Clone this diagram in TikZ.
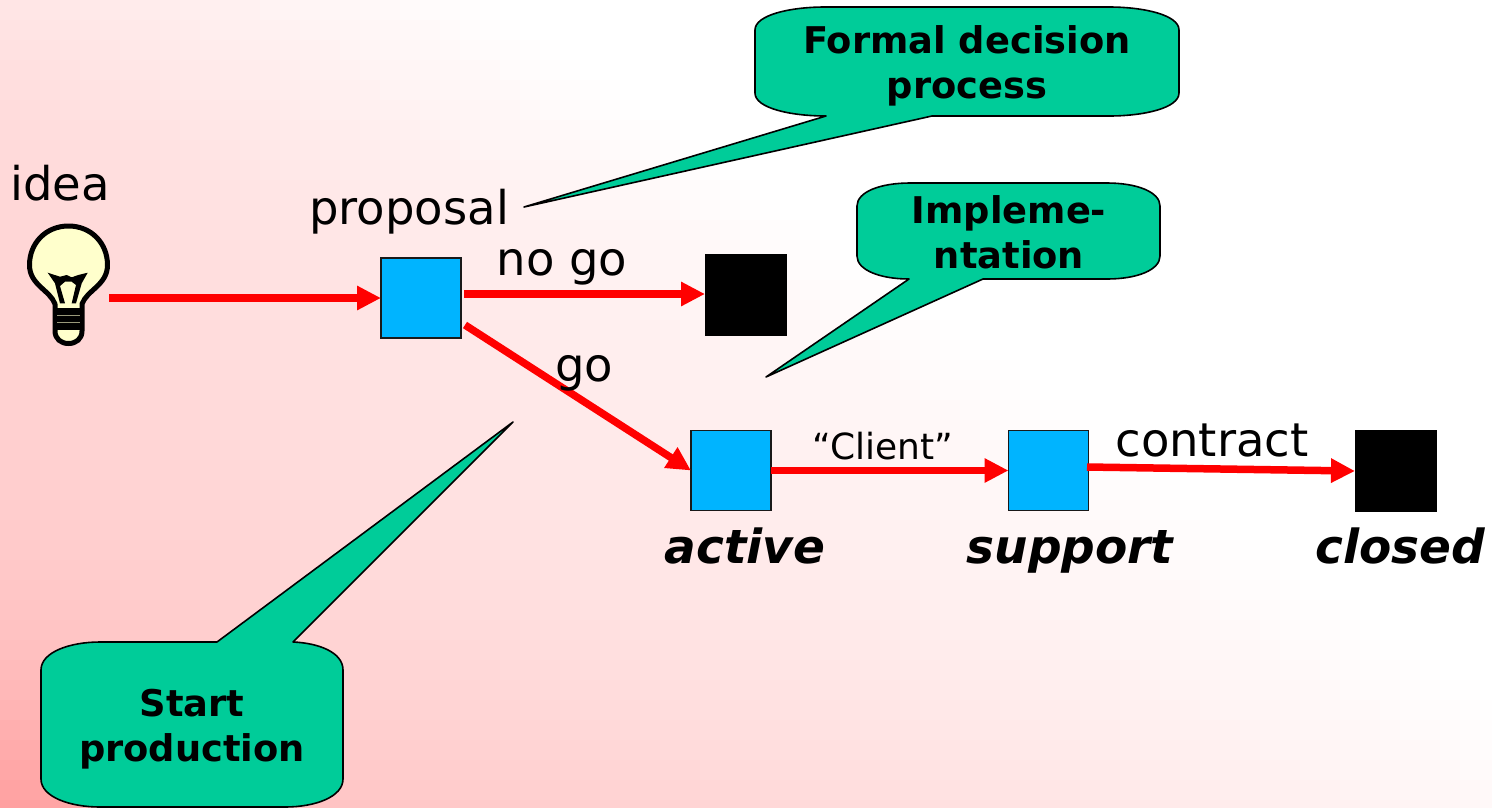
\documentclass[tikz,border=0pt]{standalone}
\usepackage{fontspec}
\setmainfont{DejaVu Sans}
\usetikzlibrary{arrows.meta}
\definecolor{calloutgreen}{HTML}{00CC99}
\definecolor{boxblue}{HTML}{00B4FF}
\definecolor{bulbfill}{HTML}{FFFFCC}
\tikzset{
  x=1pt,y=-1pt,
  flow/.style={draw=red,line width=7.5pt,-{Triangle[length=24pt,width=23pt]}},
  statebox/.style={draw=black!90,line width=1.6pt,fill=boxblue,minimum size=80pt,inner sep=0pt,outer sep=0pt},
  endbox/.style={fill=black,minimum size=82pt,inner sep=0pt,outer sep=0pt},
  callout/.style={draw=black,line width=1.6pt,fill=calloutgreen,line join=round},
  lbl/.style={font=\fontsize{46.5}{50}\selectfont,text=black,inner sep=0pt,anchor=base},
  smalllbl/.style={font=\fontsize{36}{40}\selectfont,text=black,inner sep=0pt,anchor=base},
  statelbl/.style={font=\fontsize{47}{52}\selectfont\bfseries\itshape,text=black,inner sep=0pt,anchor=base},
  calltext/.style={font=\fontsize{36.8}{45}\selectfont\bfseries,text=black,align=center,inner sep=0pt},
}
\begin{document}
\begin{tikzpicture}
\useasboundingbox (0,0) rectangle (1492,807);
% background: pink in the lower left corner fading to white
\fill[white] (0,0) rectangle (1492,807);
\begin{scope}
\clip (0,0) rectangle (1492,807);
\foreach \ix in {0,...,74}{
  \foreach \iy in {0,...,40}{
    \pgfmathsetmacro{\xa}{\ix*20}
    \pgfmathsetmacro{\ya}{\iy*20}
    \pgfmathsetmacro{\v}{(\ya+10)/800}
    \pgfmathsetmacro{\hh}{0.10+0.35*\v-0.6*\v*\v+0.43*\v*\v*\v}
    \pgfmathsetmacro{\ww}{490+1150*\v}
    \pgfmathsetmacro{\rr}{((\xa+10)/200)^2+((807-\ya-10)/200)^2}
    \pgfmathsetmacro{\dd}{100*(\hh*max(0,1-(\xa+10)/\ww)+0.09/((1+\rr)*(1+\rr)))}
    \fill[red!\dd!white] (\xa,\ya) rectangle (\xa+21,\ya+21);
  }
}
\end{scope}
% callouts
\draw[callout] (755,30) .. controls (755,15) and (790,7) .. (825,7) -- (1109,7)
  .. controls (1144,7) and (1179,15) .. (1179,30) -- (1179,93)
  .. controls (1179,108) and (1144,116) .. (1109,116) -- (932,116) -- (524,207) -- (826,116)
  .. controls (790,116) and (755,108) .. (755,93) -- cycle;
\node[calltext] (t1) at (967,65.5) {Formal decision\\process};
\draw[callout] (857,206) .. controls (857,192) and (880,183) .. (910,183) -- (1107,183)
  .. controls (1137,183) and (1160,192) .. (1160,206) -- (1160,256)
  .. controls (1160,270) and (1137,279) .. (1107,279) -- (983,279) -- (766,377) -- (909,279)
  .. controls (880,279) and (857,270) .. (857,256) -- cycle;
\node[calltext] (t2) at (1009,232) {Impleme-\\ntation};
\draw[callout] (41,670) .. controls (41,652) and (70,642) .. (100,642) -- (217,642) -- (513,422) -- (293,642)
  .. controls (318,643) and (343,652) .. (343,670) -- (343,779)
  .. controls (343,797) and (315,807) .. (285,807) -- (100,807)
  .. controls (70,807) and (41,797) .. (41,779) -- cycle;
\node[calltext] (t3) at (192,729) {Start\\production};
% bulb
\draw[line width=5pt,fill=bulbfill,line join=round]
  (55,304) .. controls (50,290) and (29.5,285) .. (29.5,265)
  .. controls (29.5,243) and (46,226) .. (68.5,226)
  .. controls (91,226) and (107.5,243) .. (107.5,265)
  .. controls (107.5,285) and (87,290) .. (82,304)
  -- (82,331) .. controls (82,339) and (76,343.5) .. (68.5,343.5)
  .. controls (61,343.5) and (55,339) .. (55,331) -- cycle;
\fill[black] (47.7,272.7) -- (60,276.7) -- (66.7,275) -- (71.7,277.3) -- (78.3,275) -- (87.7,272.7)
  -- (81.7,283.3) -- (76,303.3) -- (71.7,303.3) -- (76,285) -- (71.7,281.7) -- (65,281.7)
  -- (60,286) -- (65,303.3) -- (60,303.3) -- (55,283.3) -- cycle;
\fill[black] (55,308) rectangle (82,330);
\foreach \yy in {315,322}{\draw[bulbfill!60!black,line width=1pt] (57,\yy) -- (80,\yy);}
\coordinate (bulb) at (109,298);
% boxes
\node[statebox] (proposal) at (421,298) {};
\node[endbox] (nogo) at (746,295) {};
\node[statebox] (active) at (731,470.5) {};
\node[statebox] (support) at (1048.5,470.5) {};
\node[endbox] (closed) at (1396,471) {};
% flows
\coordinate (p1) at (464,294);
\coordinate (p2) at (465,325);
\coordinate (s1) at (1087,467);
\draw[flow] (bulb) -- (proposal.west);
\draw[flow] (p1) -- (nogo.west |- p1);
\draw[flow] (p2) -- (active.west);
\draw[flow] (active.east) -- (support.west);
\draw[flow] (s1) -- (closed.west);
% labels
\node[lbl] (lidea) at (60,200) {idea};
\node[lbl] (lprop) at (409,224) {proposal};
\node[lbl] (lnogo) at (562,275) {no go};
\node[lbl] (lgo) at (584,381) {go};
\node[smalllbl] (lclient) at (883,459) {“Client”};
\node[lbl] (lcontract) at (1212,456) {contract};
\node[statelbl] (lactive) at (745,563) {active};
\node[statelbl] (lsupport) at (1070,563) {support};
\node[statelbl] (lclosed) at (1400,563) {closed};
\end{tikzpicture}
\end{document}
